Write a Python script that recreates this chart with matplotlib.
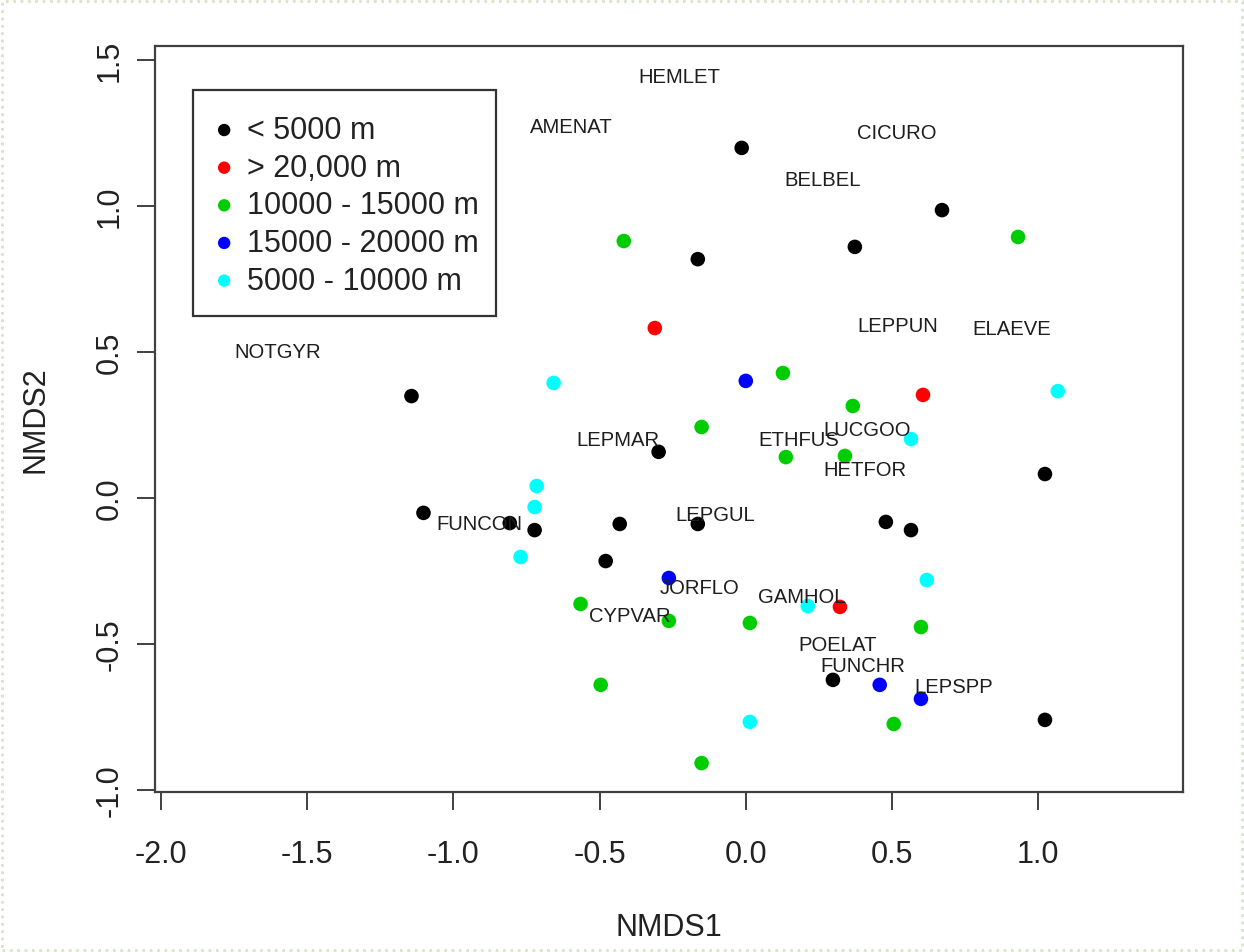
import matplotlib
matplotlib.use("Agg")
import matplotlib.pyplot as plt
from matplotlib.patches import Rectangle

plt.rcParams['font.family'] = ['Liberation Sans', 'DejaVu Sans']

# ---- data ----
groups = ["< 5000 m", "> 20,000 m", "10000 - 15000 m", "15000 - 20000 m", "5000 - 10000 m"]
group_colors = ["#000000", "#FF0000", "#00CD00", "#0000FF", "#00FFFF"]

x_lt5000 = [-0.014, 0.671, 0.373, -0.164, -1.143, -0.298, 1.023, -1.102, -0.807,
            -0.722, -0.431, -0.164, 0.479, 0.565, -0.479, 0.298, 1.023]
y_lt5000 = [1.199, 0.986, 0.860, 0.818, 0.349, 0.158, 0.082, -0.051, -0.086,
            -0.110, -0.089, -0.089, -0.082, -0.110, -0.216, -0.623, -0.760]

x_gt20000 = [-0.311, 0.606, 0.322]
y_gt20000 = [0.582, 0.353, -0.373]

x_10_15 = [-0.417, 0.931, 0.127, 0.366, -0.151, 0.137, 0.339, -0.565, -0.263,
           0.014, 0.599, -0.496, 0.506, -0.151]
y_10_15 = [0.880, 0.894, 0.428, 0.315, 0.243, 0.140, 0.144, -0.363, -0.421,
           -0.428, -0.442, -0.640, -0.774, -0.908]

x_15_20 = [0.000, -0.263, 0.458, 0.599]
y_15_20 = [0.401, -0.274, -0.640, -0.688]

x_5_10 = [-0.657, 1.067, 0.565, -0.715, -0.722, -0.770, 0.619, 0.212, 0.014]
y_5_10 = [0.394, 0.366, 0.202, 0.041, -0.031, -0.202, -0.281, -0.370, -0.767]

species = ["HEMLET", "AMENAT", "CICURO", "BELBEL", "LEPPUN", "ELAEVE", "NOTGYR",
           "LEPMAR", "ETHFUS", "LUCGOO", "HETFOR", "FUNCON", "LEPGUL", "JORFLO",
           "GAMHOL", "CYPVAR", "POELAT", "FUNCHR", "LEPSPP"]
species_x = [-0.226, -0.595, 0.517, 0.263, 0.520, 0.910, -1.601,
             -0.438, 0.181, 0.414, 0.407, -0.910, -0.106, -0.157,
             0.192, -0.397, 0.315, 0.400, 0.712]
species_y = [1.445, 1.271, 1.253, 1.092, 0.592, 0.582, 0.500,
             0.202, 0.202, 0.236, 0.096, -0.086, -0.058, -0.308,
             -0.336, -0.404, -0.503, -0.575, -0.647]

x_ticks = [-2.0, -1.5, -1.0, -0.5, 0.0, 0.5, 1.0]
y_ticks = [-1.0, -0.5, 0.0, 0.5, 1.0, 1.5]

series_x = [x_lt5000, x_gt20000, x_10_15, x_15_20, x_5_10]
series_y = [y_lt5000, y_gt20000, y_10_15, y_15_20, y_5_10]

# ---- figure ----
W, H = 1244, 953
AX_L, AX_R, AX_T, AX_B = 155, 1183, 47, 793
fig = plt.figure(figsize=(W/100, H/100), dpi=100)
ax = fig.add_axes([AX_L/W, 1-AX_B/H, (AX_R-AX_L)/W, (AX_B-AX_T)/H])

def ax_x(px):
    return (px - AX_L) / (AX_R - AX_L)

def ax_y(py):
    return (AX_B - py) / (AX_B - AX_T)

for xs, ys, lab, col in zip(series_x, series_y, groups, group_colors):
    ax.scatter(xs, ys, s=110, c=col, edgecolors='none', label=lab, zorder=3)

for name, sx, sy in zip(species, species_x, species_y):
    ax.text(sx, sy, name, ha='center', va='center', fontsize=14.6,
            color='#1e1e1e', zorder=4)

ax.set_xlim(-2.02, 1.495)
ax.set_ylim(-1.007, 1.548)
ax.set_xticks(x_ticks)
ax.set_yticks(y_ticks)
ax.set_xticklabels([f"{v:.1f}" for v in x_ticks])
ax.set_yticklabels([f"{v:.1f}" for v in y_ticks])

for sp in ax.spines.values():
    sp.set_color('#404040')
    sp.set_linewidth(1.6)

ax.tick_params(axis='both', direction='out', length=13, width=1.4,
               color='#404040', labelsize=22, labelcolor='#222222')
ax.tick_params(axis='x', pad=21)
ax.tick_params(axis='y', pad=19.5)
for lab in ax.get_yticklabels():
    lab.set_rotation(90)
    lab.set_va('center')
    lab.set_ha('center')

ax.set_xlabel("NMDS1", fontsize=22, color='#222222')
ax.set_ylabel("NMDS2", fontsize=22, color='#222222')
ax.xaxis.set_label_coords(0.5, ax_y(928))
ax.xaxis.label.set_va('center')
ax.yaxis.set_label_coords(ax_x(35), 0.5)
ax.yaxis.label.set_va('center')
ax.yaxis.label.set_ha('center')

# legend: frame drawn as separate rectangle, entries via ax.legend
ax.add_patch(Rectangle((ax_x(193), ax_y(317)), ax_x(496) - ax_x(193), ax_y(91) - ax_y(317),
                       transform=ax.transAxes, facecolor='white', edgecolor='#333333',
                       linewidth=1.6, zorder=5))
leg = ax.legend(loc='upper left', bbox_to_anchor=(ax_x(193), ax_y(91)),
                fontsize=22, frameon=False, scatterpoints=1, markerscale=0.85,
                labelspacing=0.25, borderpad=0.82, handlelength=0.4,
                handletextpad=0.56, borderaxespad=0)
leg.set_zorder(6)
for t in leg.get_texts():
    t.set_color('#222222')

fig.patches.append(Rectangle((0.002, 0.002), 0.996, 0.996, transform=fig.transFigure,
                             fill=False, edgecolor='#d5e6c8', linestyle=':', linewidth=2))

fig.savefig("out.png", dpi=100)
